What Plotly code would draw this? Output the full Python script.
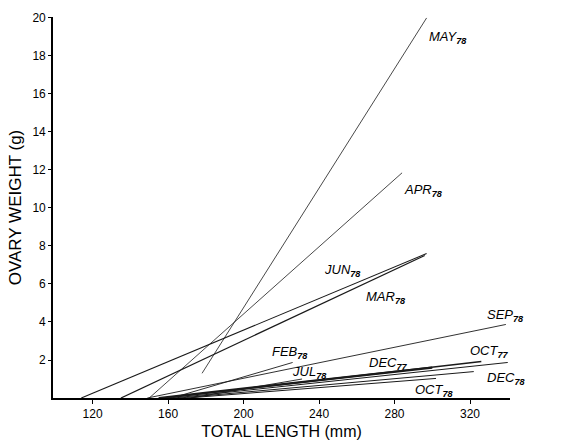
import plotly.graph_objects as go

# Regression lines (total length mm -> ovary weight g)
months = ["MAY", "APR", "JUN", "MAR", "SEP", "FEB", "JUL", "DEC", "OCT", "NOV", "DEC", "OCT"]
years = ["78", "78", "78", "78", "78", "78", "78", "77", "77", "77", "78", "78"]
x_start = [178, 150, 114, 135, 149, 162, 172, 155, 158, 163, 166, 170]
y_start = [1.3, 0, 0, 0, 0, 0, 0, 0, 0, 0, 0, 0]
x_end = [297, 284, 297, 296, 339, 226, 231, 300, 326, 340, 322, 302]
y_end = [20.0, 11.85, 7.6, 7.5, 3.87, 1.87, 1.0, 1.6, 1.92, 1.87, 1.39, 1.03]
line_w = [0.8, 0.8, 1.1, 1.3, 0.9, 0.9, 0.9, 2.2, 1.6, 1.0, 1.0, 1.0]

# Label positions (left edge, vertical centre) in data units
label_x = [297, 284, 241.5, 264, 328, 214, 224.5, 265.5, 319, 345, 328, 290]
label_y = [18.95, 10.9, 6.72, 5.3, 4.35, 2.4, 1.34, 1.82, 2.45, 1.87, 1.03, 0.4]

x_ticks = [120, 160, 200, 240, 280, 320]
y_ticks = [2, 4, 6, 8, 10, 12, 14, 16, 18, 20]

FONT = "Liberation Sans, Arial, sans-serif"

fig = go.Figure()
for i in range(len(months)):
    fig.add_trace(go.Scatter(
        x=[x_start[i], x_end[i]], y=[y_start[i], y_end[i]],
        mode="lines", line=dict(color="#1a1a1a", width=line_w[i]),
        showlegend=False, hoverinfo="skip"))

for i in range(len(months)):
    fig.add_annotation(
        x=label_x[i], y=label_y[i], xref="x", yref="y",
        text="<i>" + months[i] + "<sub><b>" + years[i] + "</b></sub></i>",
        showarrow=False, xanchor="left", yanchor="middle",
        font=dict(family=FONT, size=13, color="black"))

fig.update_layout(
    width=563, height=443,
    margin=dict(l=53, r=53, t=17, b=45),
    paper_bgcolor="white", plot_bgcolor="white",
    font=dict(family=FONT, color="black"),
    xaxis=dict(range=[99, 341.2], tickvals=x_ticks, ticks="outside", ticklen=4,
               tickwidth=1, tickcolor="black", showline=True, linecolor="black",
               linewidth=1.6, showgrid=False, zeroline=False, automargin=False,
               tickfont=dict(size=12, color="black"),
               title=dict(text="TOTAL LENGTH (mm)", font=dict(size=16, color="black"), standoff=6)),
    yaxis=dict(range=[0, 20.05], tickvals=y_ticks, ticks="outside", ticklen=3,
               tickwidth=1, tickcolor="black", showline=True, linecolor="black",
               linewidth=1.6, showgrid=False, zeroline=False, automargin=False,
               tickfont=dict(size=12, color="black"),
               title=dict(text="OVARY WEIGHT (g)", font=dict(size=17, color="black"), standoff=6)),
)

fig.write_html("out.html")
